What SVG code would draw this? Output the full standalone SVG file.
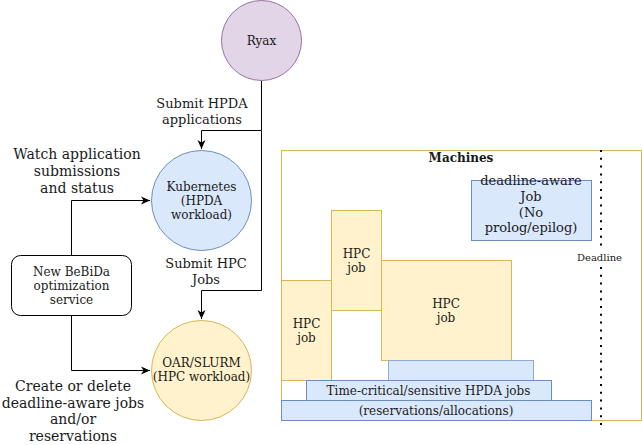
<svg xmlns="http://www.w3.org/2000/svg" width="642" height="445" viewBox="0 0 642 445">
<style>
text{font-family:"DejaVu Serif","Liberation Serif",serif;fill:#1a1a1a;text-anchor:middle;dominant-baseline:central}
.n{font-size:12px}
.l13{font-size:13px}
.l14{font-size:14px}
.edge{fill:none;stroke:#000;stroke-width:1}
.hpc{fill:#fff2cc;stroke:#d6b656}
.blue{fill:#dae8fc;stroke:#6c8ebf}
</style>
<defs>
<marker id="arr" viewBox="0 0 10 10" refX="9" refY="5" markerWidth="10" markerHeight="10" markerUnits="userSpaceOnUse" orient="auto">
<path d="M0,1 L9,5 L0,9 L2.5,5 Z" fill="#000"/>
</marker>
</defs>
<g id="connectors">
<path class="edge" d="M261.5,80.5 V130.5 H201.5 V149" marker-end="url(#arr)"/>
<path class="edge" d="M261.5,130.5 V290.5 H201.5 V319" marker-end="url(#arr)"/>
<path class="edge" d="M71.5,255.5 V200.5 H150" marker-end="url(#arr)"/>
<path class="edge" d="M71.5,315.5 V370.5 H150" marker-end="url(#arr)"/>
<text class="l13" x="202" y="103">Submit HPDA</text>
<text class="l13" x="202" y="119">applications</text>
<text class="l13" x="206" y="263">Submit HPC</text>
<text class="l13" x="206" y="279">Jobs</text>
<text class="l14" x="77" y="154">Watch application</text>
<text class="l14" x="77" y="171">submissions</text>
<text class="l14" x="77" y="188">and status</text>
<text class="l14" x="73" y="386">Create or delete</text>
<text class="l14" x="73" y="403">deadline-aware jobs</text>
<text class="l14" x="73" y="419">and/or</text>
<text class="l14" x="73" y="436">reservations</text>
</g>
<g id="ryax">
<circle cx="261.5" cy="40.5" r="40" fill="#e1d5e7" stroke="#9673a6"/>
<text class="n" x="261.5" y="41">Ryax</text>
</g>
<g id="kubernetes">
<circle cx="201.5" cy="200.5" r="50" fill="#dae8fc" stroke="#6c8ebf"/>
<text class="n" x="201.5" y="187">Kubernetes</text>
<text class="n" x="201.5" y="201">(HPDA</text>
<text class="n" x="201.5" y="215">workload)</text>
</g>
<g id="oar">
<circle cx="201.5" cy="370.5" r="50" fill="#fff2cc" stroke="#d6b656"/>
<text class="n" x="201.5" y="363">OAR/SLURM</text>
<text class="n" x="201.5" y="377">(HPC workload)</text>
</g>
<g id="bebida">
<rect x="11.5" y="255.5" width="120" height="60" rx="9" fill="#fff" stroke="#000"/>
<text class="n" x="71.5" y="271.5">New BeBiDa</text>
<text class="n" x="71.5" y="285.5">optimization</text>
<text class="n" x="71.5" y="299.5">service</text>
</g>
<g id="machines">
<rect x="281.5" y="150.5" width="360" height="270" fill="#fff" stroke="#d6b656"/>
<text class="n" x="461" y="157.5" font-weight="bold">Machines</text>
</g>
<g id="deadline-job">
<rect class="blue" x="471.5" y="180.5" width="120" height="60"/>
<text class="l13" x="531" y="180">deadline-aware</text>
<text class="l13" x="531" y="196">Job</text>
<text class="l13" x="531" y="212">(No</text>
<text class="l13" x="531" y="227.5">prolog/epilog)</text>
</g>
<g id="hpc1">
<rect class="hpc" x="281.5" y="280.5" width="50" height="100"/>
<text class="n" x="306.5" y="323.5">HPC</text>
<text class="n" x="306.5" y="337.5">job</text>
</g>
<g id="hpc2">
<rect class="hpc" x="331.5" y="210.5" width="50" height="100"/>
<text class="n" x="356.5" y="253.5">HPC</text>
<text class="n" x="356.5" y="267.5">job</text>
</g>
<g id="hpc3">
<rect class="hpc" x="381.5" y="260.5" width="130" height="100"/>
<text class="n" x="446" y="303.5">HPC</text>
<text class="n" x="446" y="317.5">job</text>
</g>
<g id="hpda-top">
<rect x="388.5" y="360.5" width="145" height="20" fill="#dae8fc" stroke="#8eaad6"/>
</g>
<g id="hpda-mid">
<rect class="blue" x="306.5" y="380.5" width="245" height="20"/>
<text class="n" x="428.5" y="390.5">Time-critical/sensitive HPDA jobs</text>
</g>
<g id="hpda-bottom">
<rect class="blue" x="281.5" y="400.5" width="310" height="20"/>
<text class="n" x="436" y="410.5">(reservations/allocations)</text>
</g>
<g id="deadline">
<line x1="601" y1="150" x2="601" y2="426" stroke="#000" stroke-width="2" stroke-dasharray="2 5.8"/>
<rect x="575" y="251" width="50" height="13" fill="#fff"/>
<text x="599.5" y="257.5" font-size="10px">Deadline</text>
</g>
</svg>
